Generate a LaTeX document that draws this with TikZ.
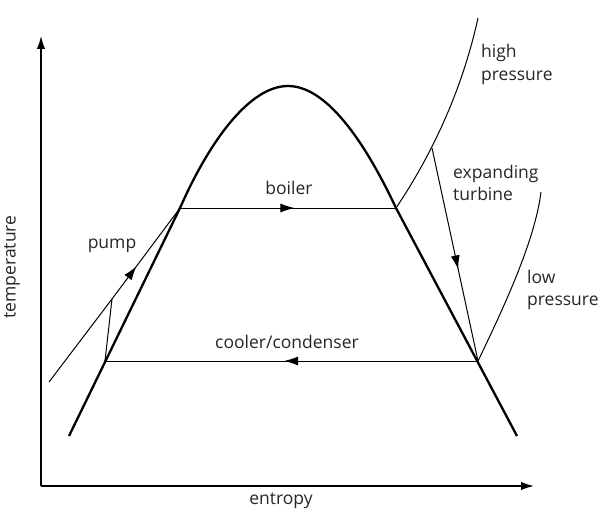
\documentclass[tikz,border=0pt]{standalone}
\usepackage{fontspec}
\setmainfont{Open Sans}
\usetikzlibrary{arrows.meta,decorations.markings}
\begin{document}
\begin{tikzpicture}[x=1pt,y=-1pt,
  lbl/.style={font=\fontsize{17.5}{22}\selectfont, text=black!85, inner sep=0pt},
  axisline/.style={line width=1.5pt,-{Latex[length=13pt,width=8.5pt]}},
  dome/.style={line width=2.3pt},
  thinline/.style={line width=1pt},
  midarrow/.style={postaction={decorate},decoration={markings,
     mark=at position #1 with {\arrow{Latex[length=14pt,width=9pt]}}}}
]
\useasboundingbox (0,0) rectangle (599,519);
% points
\coordinate (O) at (41,486);
\coordinate (ytop) at (41,36);
\coordinate (xend) at (534,486);
\coordinate (dl) at (69,436);
\coordinate (A) at (180,208);
\coordinate (P) at (288,86);
\coordinate (B) at (396,208);
\coordinate (dr) at (517,436);
\coordinate (C) at (105,361);
\coordinate (D) at (478,361);
\coordinate (K) at (112,299);
\coordinate (ps) at (49,382);
\coordinate (T) at (432,148);
\coordinate (hp) at (478,18);
\coordinate (lp) at (541,192);
% axes
\draw[axisline] (O) -- (ytop);
\draw[axisline] (O) -- (xend);
% dome
\draw[dome] (dl) -- (A) .. controls (210,140) and (250,86) .. (P)
   .. controls (326,86) and (364,140) .. (B) -- (dr);
% boiler and condenser
\draw[thinline,midarrow=0.53] (A) -- (B);
\draw[thinline,midarrow=0.52] (D) -- (C);
% pump
\draw[thinline] (ps) -- (K);
\draw[thinline] (C) -- (K);
\draw[thinline,midarrow=0.36] (K) -- (A);
% pressure curves
\draw[thinline] (B) .. controls (425,165) and (460,100) .. (hp);
\draw[thinline] (D) .. controls (505,305) and (535,240) .. (lp);
% turbine
\draw[thinline,midarrow=0.57] (T) -- (D);
% labels
\node[lbl,anchor=base west,align=left] (lhp) at (481,80) {high\\pressure};
\node[lbl,anchor=base west,align=left] (lt) at (453,200) {expanding\\turbine};
\node[lbl,anchor=base west,align=left] (llp) at (527,305) {low\\pressure};
\node[lbl] (lpump) at (112,246) {pump};
\node[lbl] (lboil) at (289,188) {boiler};
\node[lbl] (lcool) at (287,342) {cooler/condenser};
\node[lbl,rotate=90] (ltemp) at (12,267) {temperature};
\node[lbl] (lent) at (281,501) {entropy};
\end{tikzpicture}
\end{document}
